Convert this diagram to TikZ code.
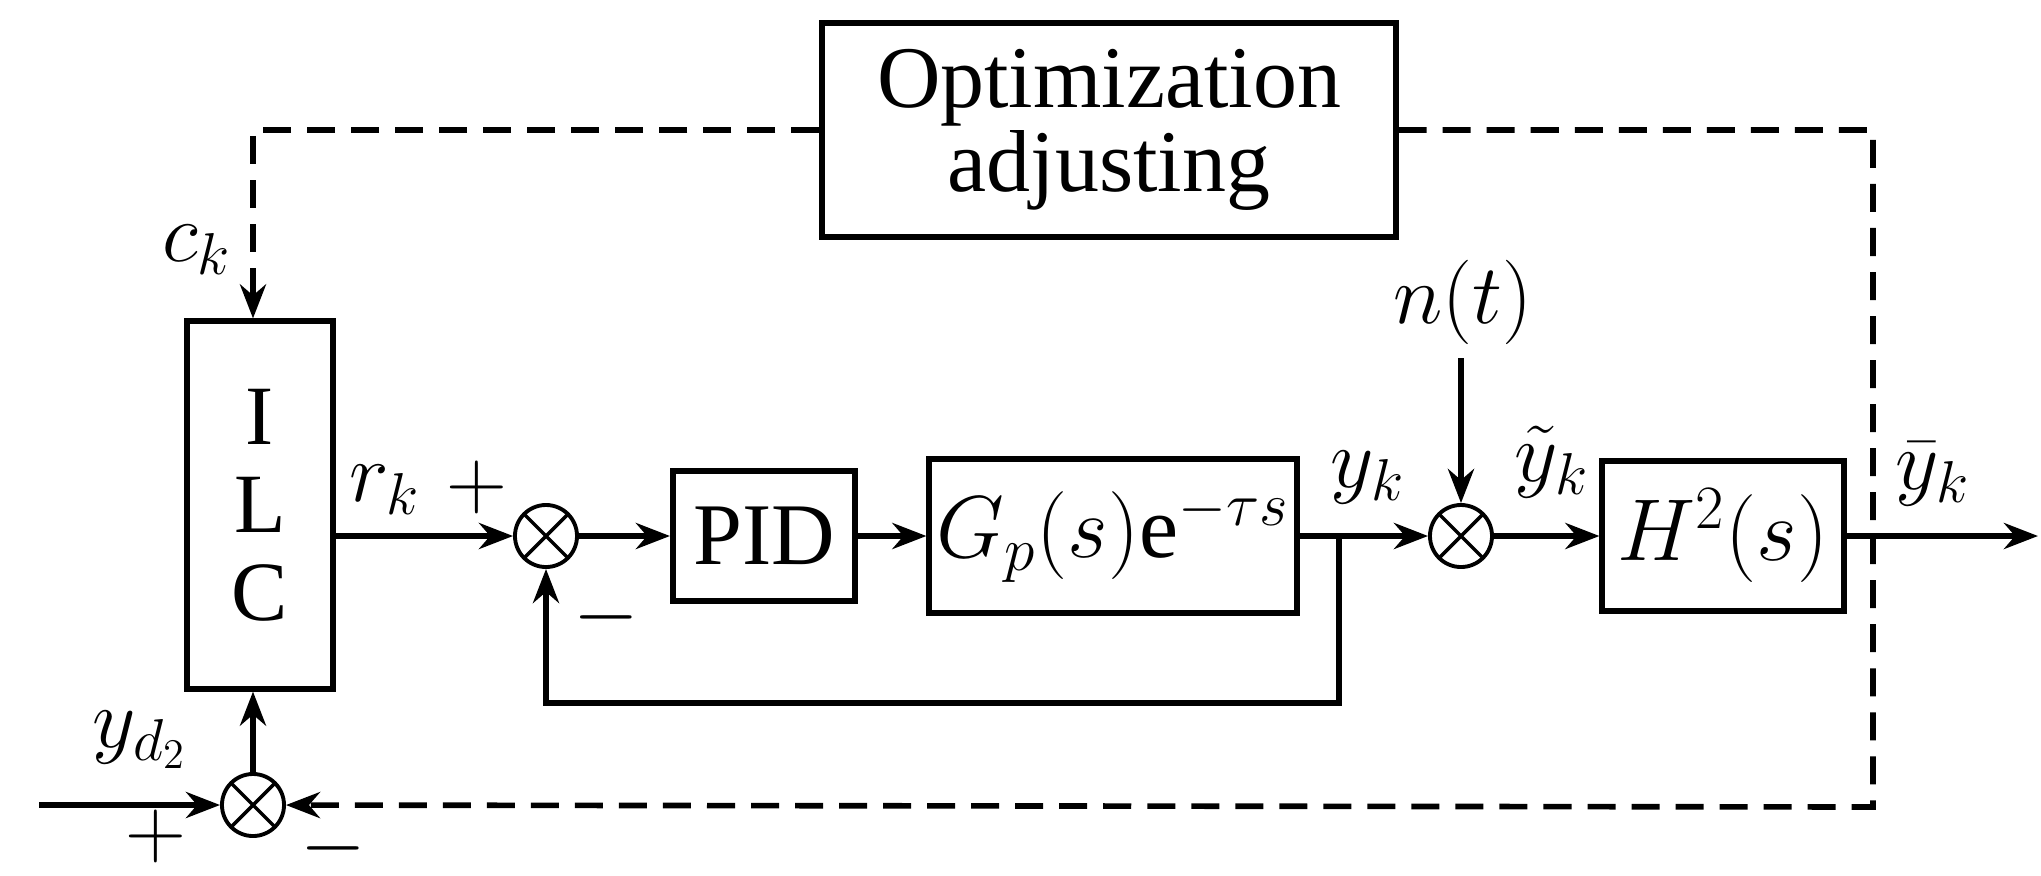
\RequirePackage{fix-cm}
\documentclass[tikz,border=0pt]{standalone}
\usepackage{fontspec}
\setmainfont{Liberation Serif}
\usetikzlibrary{arrows.meta}
\begin{document}
\begin{tikzpicture}[x=0.01cm,y=-0.01cm,
  line width=1.6pt,
  blk/.style={draw, line width=1.7pt, inner sep=0pt, font=\fontsize{25}{24}\selectfont, align=center},
  sumj/.style={draw, circle, line width=1.1pt, minimum size=0.62cm, inner sep=0pt,
    path picture={\draw[line width=1pt] (path picture bounding box.north west) -- (path picture bounding box.south east)
      (path picture bounding box.north east) -- (path picture bounding box.south west);}},
  sig/.style={-{Stealth[length=0.34cm,width=0.26cm]}},
  dsh/.style={dash pattern=on 0.28cm off 0.16cm},
  lbl/.style={font=\fontsize{24}{24}\selectfont, inner sep=0pt}]
\useasboundingbox (0,0) rectangle (2041,875);

% blocks
\node[blk, minimum width=5.73cm, minimum height=2.14cm] (opt) at (1109,130) {Optimization\\adjusting};
\node[blk, minimum width=1.45cm, minimum height=3.67cm, font=\fontsize{24}{25}\selectfont] (ilc) at (260,505) {I\\L\\C};
\node[blk, minimum width=1.82cm, minimum height=1.30cm] (pid) at (764,536) {PID};
\node[blk, minimum width=3.67cm, minimum height=1.53cm] (gp) at (1113,536) {$G_p(s)\mathrm{e}^{-\tau s}$};
\node[blk, minimum width=2.41cm, minimum height=1.50cm] (h) at (1723,536) {$H^2(s)$};

% summing junctions
\node[sumj] (s1) at (546,536) {};
\node[sumj] (s2) at (1461,536) {};
\node[sumj] (s3) at (253,805) {};

% helper coordinates
\coordinate (br) at (1339,536);
\coordinate (fb) at (1339,703);
\coordinate (out) at (2038,536);
\coordinate (in) at (39,805);
\coordinate (nt) at (1461,358);
\coordinate (tl) at (253,130);
\coordinate (tr) at (1873,130);
\coordinate (brc) at (1873,807);

% signal connectors
\draw[sig] (ilc.east |- s1) -- (s1);
\draw[sig] (s1) -- (pid);
\draw[sig] (pid) -- (gp);
\draw[sig] (gp) -- (s2);
\draw[sig] (s2) -- (h);
\draw[sig] (h) -- (out);
\draw[sig] (br) -- (fb) -- (s1 |- fb) -- (s1.south);
\draw[sig] (nt) -- (s2);
\draw[sig] (in) -- (s3);
\draw[sig] (s3) -- (s3 |- ilc.south);

% dashed loop
\draw[sig,dsh] (opt.west) -- (tl) -- (tl |- ilc.north);
\draw[sig,dsh] (opt.east) -- (tr) -- (brc) -- (s3);

% labels
\node[lbl] (ck) at (197,250) {$c_k$};
\node[lbl] (rk) at (385,490) {$r_k$};
\node[lbl] (p1) at (477,487) {$+$};
\node[lbl] (m1) at (606,617) {$-$};
\node[lbl] (yk) at (1368,478) {$y_k$};
\node[lbl] (ntl) at (1463,302) {$n(t)$};
\node[lbl] (ytk) at (1552,462) {$\tilde{y}_k$};
\node[lbl] (ybk) at (1933,474) {$\bar{y}_k$};
\node[lbl] (yd) at (140,740) {$y_{d_2}$};
\node[lbl] (p3) at (156,836) {$+$};
\node[lbl] (m3) at (333,848) {$-$};
\end{tikzpicture}
\end{document}
